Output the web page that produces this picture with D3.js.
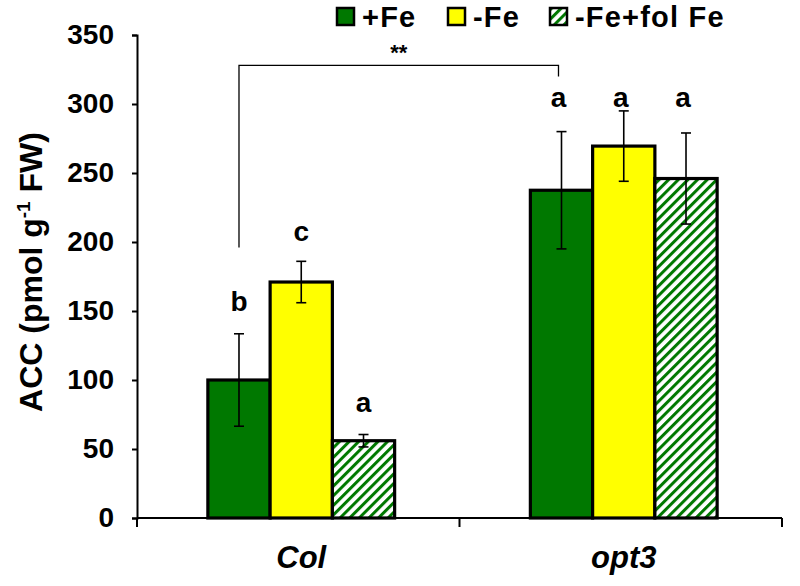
<!DOCTYPE html>
<html><head><meta charset="utf-8">
<script src="https://cdn.jsdelivr.net/npm/d3@7"></script>
<style>body{margin:0;background:#fff}svg{display:block}text{font-family:"Liberation Sans",Arial,sans-serif;font-weight:bold}</style>
</head><body>
<svg id="c" width="800" height="586"></svg>
<script>
const categories = ["Col", "opt3"];
const seriesNames = ["+Fe", "-Fe", "-Fe+fol Fe"];
const seriesColors = ["#007800", "#ffff00", "hatch"];
const valuesPlusFe = [100, 237.5];
const valuesMinusFe = [171, 269.5];
const valuesFolFe = [56, 246];
const errPlusFe = [33.5, 42.5];
const errMinusFe = [15, 25.5];
const errFolFe = [4.5, 33];
const letters = [["b", "c", "a"], ["a", "a", "a"]];
const letterLevels = [[150, 201, 77], [298, 298, 298]];
const yTicks = [0, 50, 100, 150, 200, 250, 300, 350];
const sigText = "**";
const sigLevel = 328;
const sigLeftLow = 196;
const sigRightLow = 320;

const svg = d3.select("#c");
const M = {l: 137, r: 782, t: 35, b: 518};
const x0 = d3.scaleBand().domain(categories).range([M.l, M.r]).paddingInner(0).paddingOuter(0);
const x1 = d3.scaleBand().domain(seriesNames).range([3, x0.bandwidth() + 3]).paddingInner(0).paddingOuter(1.09);
const y = d3.scaleLinear().domain([0, 350]).range([M.b, M.t]);

const defs = svg.append("defs");
const pat = defs.append("pattern").attr("id", "hatch").attr("patternUnits", "userSpaceOnUse")
  .attr("width", 6.8).attr("height", 6.8).attr("patternTransform", "rotate(45)");
pat.append("rect").attr("width", 6.8).attr("height", 6.8).attr("fill", "#fff");
pat.append("rect").attr("x", 0).attr("width", 3).attr("height", 6.8).attr("fill", "#007800");

const vals = [valuesPlusFe, valuesMinusFe, valuesFolFe];
const errs = [errPlusFe, errMinusFe, errFolFe];
const data = [];
categories.forEach((c, ci) => seriesNames.forEach((s, si) => data.push({c, s, ci, si, v: vals[si][ci], e: errs[si][ci], l: letters[ci][si], ly: letterLevels[ci][si]})));
const fillOf = si => seriesColors[si] === "hatch" ? "url(#hatch)" : seriesColors[si];

// bars
svg.append("g").selectAll("rect").data(data).join("rect")
  .attr("x", d => x0(d.c) + x1(d.s)).attr("width", x1.bandwidth())
  .attr("y", d => y(d.v)).attr("height", d => y(0) - y(d.v))
  .attr("fill", d => fillOf(d.si)).attr("stroke", "#000").attr("stroke-width", 3.2);

// error bars
const eg = svg.append("g").attr("stroke", "#000").attr("stroke-width", 1.6);
data.forEach(d => {
  const cx = x0(d.c) + x1(d.s) + x1.bandwidth() / 2;
  eg.append("line").attr("x1", cx).attr("x2", cx).attr("y1", y(d.v + d.e)).attr("y2", y(d.v - d.e));
  eg.append("line").attr("x1", cx - 5).attr("x2", cx + 5).attr("y1", y(d.v + d.e)).attr("y2", y(d.v + d.e));
  eg.append("line").attr("x1", cx - 5).attr("x2", cx + 5).attr("y1", y(d.v - d.e)).attr("y2", y(d.v - d.e));
});

// letters
svg.append("g").selectAll("text").data(data).join("text")
  .attr("x", d => x0(d.c) + x1(d.s) + x1.bandwidth() / 2 + (d.ci === 1 ? -3 : 0))
  .attr("y", d => y(d.ly)).attr("text-anchor", "middle").attr("font-size", 28).attr("fill", "#000")
  .text(d => d.l);

// axes
const yAxis = svg.append("g").attr("transform", `translate(${M.l},0)`)
  .call(d3.axisLeft(y).tickValues(yTicks).tickSize(5).tickPadding(18));
yAxis.select(".domain").attr("stroke-width", 2);
yAxis.selectAll(".tick line").attr("stroke-width", 2);
yAxis.selectAll("text").attr("font-size", 28).attr("fill", "#000")
  .style("font-family", '"Liberation Sans",Arial,sans-serif').style("font-weight", "bold");

const xAxis = svg.append("g").attr("transform", `translate(0,${M.b})`);
xAxis.append("line").attr("x1", M.l).attr("x2", M.r).attr("stroke", "#000").attr("stroke-width", 2);
const bounds = [M.l, ...categories.map(c => x0(c) + x0.bandwidth())];
xAxis.selectAll("line.t").data(bounds).join("line").attr("class", "t")
  .attr("x1", d => d).attr("x2", d => d).attr("y1", 0).attr("y2", 9).attr("stroke", "#000").attr("stroke-width", 2);
xAxis.selectAll("text").data(categories).join("text")
  .attr("x", d => x0(d) + x0.bandwidth() / 2 + 3).attr("y", 50).attr("text-anchor", "middle")
  .attr("font-size", 31).attr("font-style", "italic").text(d => d);

// y title
svg.append("text").attr("transform", "translate(42,272) rotate(-90)").attr("text-anchor", "middle")
  .attr("font-size", 32).html('ACC (pmol g<tspan dy="-12" font-size="19">-1</tspan><tspan dy="12"> FW)</tspan>');

// significance bracket
const xl = x0(categories[0]) + x1(seriesNames[0]) + x1.bandwidth() / 2;
const xr = x0(categories[1]) + x1(seriesNames[0]) + x1.bandwidth() / 2 - 3;
svg.append("path").attr("fill", "none").attr("stroke", "#000").attr("stroke-width", 1.3)
  .attr("d", `M${xl},${y(sigLeftLow)}V${y(sigLevel)}H${xr}V${y(sigRightLow)}`);
svg.append("text").attr("x", (xl + xr) / 2).attr("y", y(sigLevel) - 5).attr("text-anchor", "middle")
  .attr("font-size", 22).text(sigText);

// legend
const legX = [337, 448, 550];
const lg = svg.append("g");
seriesNames.forEach((s, i) => {
  lg.append("rect").attr("x", legX[i]).attr("y", 8).attr("width", 17).attr("height", 17)
    .attr("fill", fillOf(i)).attr("stroke", "#000").attr("stroke-width", 2.5);
  lg.append("text").attr("x", legX[i] + 25).attr("y", 27).attr("font-size", 29)
    .attr("letter-spacing", 1.2).text(s);
});
</script>
</body></html>
